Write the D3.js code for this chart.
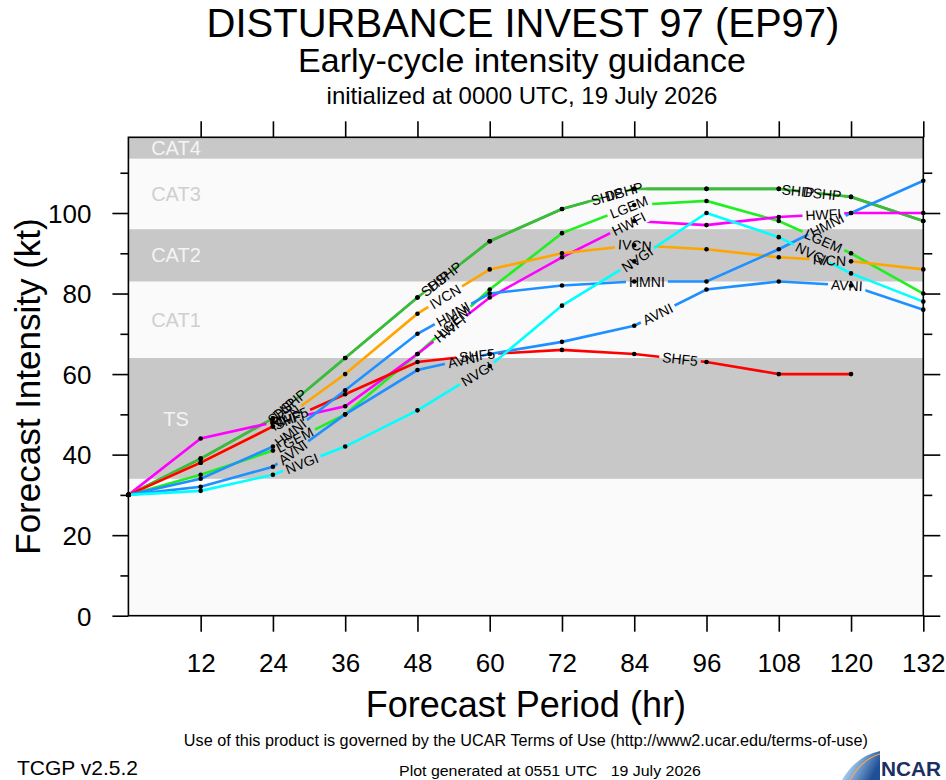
<!DOCTYPE html>
<html>
<head>
<meta charset="utf-8">
<script src="https://cdn.jsdelivr.net/npm/d3@7"></script>
<style>
body { margin: 0; background: #fff; }
svg text { font-family: "Liberation Sans", Arial, Helvetica, sans-serif; }
</style>
</head>
<body>
<svg id="chart" width="946" height="780"></svg>
<script>
// Forecast hours
const hours = [0, 12, 24, 36, 48, 60, 72, 84, 96, 108, 120, 132];

// Intensity forecasts (kt)
const SHIP = [30, 39, 49, 64, 79, 93, 101, 106, 106, 106, 104, 98];
const DSHP = [30, 39, 49, 64, 79, 93, 101, 106, 106, 106, 104, 98];
const LGEM = [30, 35, 41, 50, 65, 81, 95, 102, 103, 98, 90, 80];
const HWFI = [30, 44, 48, 52, 65, 79, 89, 98, 97, 99, 100, 100];
const IVCN = [30, 38, 47, 60, 75, 86, 90, 92, 91, 89, 88, 86];
const SHF5 = [30, 38, 47, 55, 63, 65, 66, 65, 63, 60, 60];
const AVNI = [30, 32, 37, 50, 61, 65, 68, 72, 81, 83, 82, 76];
const HMNI = [30, 34, 42, 56, 70, 80, 82, 83, 83, 91, 100, 108];
const NVGI = [30, 31, 35, 42, 51, 62, 77, 88, 100, 94, 85, 78];

// Saffir-Simpson bands
const bandNames = ["TS", "CAT1", "CAT2", "CAT3", "CAT4"];
const bandLow = [34, 64, 83, 96, 113.5];
const bandHigh = [64, 83, 96, 113.5, 140];

const xTicks = [12, 24, 36, 48, 60, 72, 84, 96, 108, 120, 132];
const yTicks = [0, 20, 40, 60, 80, 100];
const yMinor = [10, 30, 50, 70, 90, 110];

// where each model's name sits along its line (forecast hour)
const labelHours = {
    SHIP: [25.5, 51, 79.5, 111.2],
    DSHP: [26.8, 52.5, 82.3, 115.2],
    LGEM: [27.6, 54, 83.1, 115.4],
    HWFI: [26.3, 53.4, 83.1, 115.4],
    IVCN: [26, 52.6, 84.1, 116.4],
    SHF5: [27, 57.9, 91.6],
    AVNI: [27.3, 55.6, 87.9, 119.3],
    HMNI: [26.9, 53.9, 86.1, 116],
    NVGI: [28.8, 57.9, 84.5, 113.5]
};

const models = [
    {name: "SHIP", values: SHIP, color: "#3cbb3c"},
    {name: "DSHP", values: DSHP, color: "#3cbb3c"},
    {name: "LGEM", values: LGEM, color: "#22ee22"},
    {name: "HWFI", values: HWFI, color: "#ff00ff"},
    {name: "IVCN", values: IVCN, color: "#ffa500"},
    {name: "SHF5", values: SHF5, color: "#ff0000"},
    {name: "AVNI", values: AVNI, color: "#1e90ff"},
    {name: "HMNI", values: HMNI, color: "#1e90ff"},
    {name: "NVGI", values: NVGI, color: "#00ffff"}
];

const pLeft = 128.4, pRight = 923.3, pTop = 137.3, pBottom = 615.7;
const svg = d3.select("#chart");

const x = d3.scaleLinear().domain([0, 132]).range([pLeft, pRight]);
const y = d3.scaleLinear().domain([0, 118.8]).range([pBottom, pTop]);

// Titles
svg.append("text").attr("x", 523).attr("y", 36.5).attr("text-anchor", "middle")
    .style("font-size", "40px").text("DISTURBANCE INVEST 97 (EP97)");
svg.append("text").attr("x", 522).attr("y", 72).attr("text-anchor", "middle")
    .style("font-size", "34px").text("Early-cycle intensity guidance");
svg.append("text").attr("x", 522).attr("y", 104).attr("text-anchor", "middle")
    .style("font-size", "24px").text("initialized at 0000 UTC, 19 July 2026");

// Plot background and bands
const defs = svg.append("defs");
defs.append("clipPath").attr("id", "plotClip")
    .append("rect").attr("x", pLeft).attr("y", pTop)
    .attr("width", pRight - pLeft).attr("height", pBottom - pTop);

const plot = svg.append("g");
plot.append("rect").attr("x", pLeft).attr("y", pTop)
    .attr("width", pRight - pLeft).attr("height", pBottom - pTop).attr("fill", "#fafafa");

const bands = plot.append("g").attr("clip-path", "url(#plotClip)");
bandNames.forEach((name, i) => {
    const gray = i % 2 === 0;
    const y0 = y(bandLow[i]);
    const y1 = Math.max(y(bandHigh[i]), pTop);
    bands.append("rect")
        .attr("x", pLeft).attr("width", pRight - pLeft)
        .attr("y", y1).attr("height", y0 - y1)
        .attr("fill", gray ? "#c8c8c8" : "#fafafa");
    bands.append("text")
        .attr("x", 176).attr("y", (y0 + y1) / 2).attr("dy", "0.36em")
        .attr("text-anchor", "middle")
        .style("font-size", "20px")
        .attr("fill", gray ? "#f4f4f4" : "#cfcfcf")
        .text(name);
});

// Model lines with gaps where the names sit
const line = d3.line().x(d => x(d[0])).y(d => y(d[1]));
const lineLayer = svg.append("g").attr("clip-path", "url(#plotClip)");
const dotLayer = svg.append("g");
const labelLayer = svg.append("g");

function labelSpots(m) {
    const hrs = hours.slice(0, m.values.length);
    const interp = d3.scaleLinear().domain(hrs).range(m.values);
    return labelHours[m.name].map(h => {
        const i = Math.min(Math.floor(h / 12), hrs.length - 2);
        const dx = x(hrs[i + 1]) - x(hrs[i]);
        const dy = y(m.values[i + 1]) - y(m.values[i]);
        return {px: x(h), py: y(interp(h)), angle: Math.atan2(dy, dx) * 180 / Math.PI};
    });
}

models.forEach((m, k) => {
    const spots = labelSpots(m);
    const texts = spots.map(s => labelLayer.append("text")
        .attr("transform", `translate(${s.px},${s.py}) rotate(${s.angle})`)
        .attr("text-anchor", "middle").attr("dy", "0.36em")
        .style("font-size", "14px").attr("fill", "#000")
        .text(m.name));
    const mask = defs.append("mask").attr("id", "mask" + k)
        .attr("maskUnits", "userSpaceOnUse")
        .attr("x", 0).attr("y", 0).attr("width", 946).attr("height", 780);
    mask.append("rect").attr("width", 946).attr("height", 780).attr("fill", "#fff");
    spots.forEach((s, j) => {
        const w = texts[j].node().getComputedTextLength();
        mask.append("rect")
            .attr("x", -w / 2 - 3).attr("y", -7).attr("width", w + 6).attr("height", 14)
            .attr("transform", `translate(${s.px},${s.py}) rotate(${s.angle})`)
            .attr("fill", "#000");
    });
    const pts = m.values.map((v, i) => [hours[i], v]);
    lineLayer.append("path")
        .datum(pts)
        .attr("d", line)
        .attr("fill", "none")
        .attr("stroke", m.color)
        .attr("stroke-width", 2.6)
        .attr("mask", `url(#mask${k})`);
    dotLayer.selectAll(null).data(pts).enter().append("circle")
        .attr("cx", d => x(d[0])).attr("cy", d => y(d[1]))
        .attr("r", 2.3).attr("fill", "#000");
});

// Axes
const axes = svg.append("g");
const fmtNone = () => "";
axes.append("g").attr("transform", `translate(${pLeft},0)`)
    .call(d3.axisLeft(y).tickValues(yTicks).tickSize(16).tickPadding(21))
    .call(g => g.selectAll("text").style("font-size", "26px").attr("dy", "0.36em"));
axes.append("g").attr("transform", `translate(${pLeft},0)`)
    .call(d3.axisLeft(y).tickValues(yMinor).tickSize(8).tickFormat(fmtNone));
axes.append("g").attr("transform", `translate(${pRight},0)`)
    .call(d3.axisRight(y).tickValues(yTicks).tickSize(17).tickFormat(fmtNone));
axes.append("g").attr("transform", `translate(${pRight},0)`)
    .call(d3.axisRight(y).tickValues(yMinor).tickSize(9).tickFormat(fmtNone));
axes.append("g").attr("transform", `translate(0,${pBottom})`)
    .call(d3.axisBottom(x).tickValues(xTicks).tickSize(16).tickPadding(22))
    .call(g => g.selectAll("text").style("font-size", "26px"));
axes.append("g").attr("transform", `translate(0,${pTop})`)
    .call(d3.axisTop(x).tickValues(xTicks).tickSize(16).tickFormat(fmtNone));
axes.selectAll(".domain").remove();
axes.selectAll(".tick line").attr("stroke", "#000").attr("stroke-width", 1.6);
axes.selectAll(".tick text").attr("fill", "#000")
    .style("font-family", "\"Liberation Sans\", Arial, sans-serif");
axes.append("rect").attr("x", pLeft).attr("y", pTop)
    .attr("width", pRight - pLeft).attr("height", pBottom - pTop)
    .attr("fill", "none").attr("stroke", "#000").attr("stroke-width", 1.6);
svg.node().appendChild(dotLayer.node());
svg.node().appendChild(labelLayer.node());

// Axis titles
svg.append("text")
    .attr("transform", `translate(40,${(pTop + pBottom) / 2 + 10}) rotate(-90)`)
    .attr("text-anchor", "middle").style("font-size", "35px")
    .text("Forecast Intensity (kt)");
svg.append("text").attr("x", (pLeft + pRight) / 2).attr("y", 717)
    .attr("text-anchor", "middle").style("font-size", "36px")
    .text("Forecast Period (hr)");

// Footer
svg.append("text").attr("x", (pLeft + pRight) / 2).attr("y", 746)
    .attr("text-anchor", "middle").style("font-size", "16px")
    .attr("textLength", 684).attr("lengthAdjust", "spacingAndGlyphs")
    .text("Use of this product is governed by the UCAR Terms of Use (http://www2.ucar.edu/terms-of-use)");
svg.append("text").attr("x", 17).attr("y", 775)
    .style("font-size", "21px").text("TCGP v2.5.2");
svg.append("text").attr("x", 550).attr("y", 776)
    .attr("text-anchor", "middle").style("font-size", "14px")
    .attr("xml:space", "preserve")
    .attr("textLength", 302).attr("lengthAdjust", "spacingAndGlyphs")
    .text("Plot generated at 0551 UTC   19 July 2026");

// NCAR logo
const grad = defs.append("linearGradient").attr("id", "ncarGrad")
    .attr("x1", "0%").attr("y1", "0%").attr("x2", "100%").attr("y2", "40%");
grad.append("stop").attr("offset", "0%").attr("stop-color", "#ffffff");
grad.append("stop").attr("offset", "45%").attr("stop-color", "#8fb8e0");
grad.append("stop").attr("offset", "100%").attr("stop-color", "#1f4f96");
svg.append("path")
    .attr("d", "M842,780 Q856,756 880,751 L880,780 Z")
    .attr("fill", "url(#ncarGrad)");
svg.append("path")
    .attr("d", "M850,780 Q862,759 880,754")
    .attr("fill", "none").attr("stroke", "#f2a55a").attr("stroke-width", 1.2);
svg.append("text").attr("x", 881).attr("y", 776)
    .style("font-size", "21px").style("font-weight", "bold")
    .attr("fill", "#1b2f63").attr("textLength", 60).attr("lengthAdjust", "spacingAndGlyphs")
    .text("NCAR");
</script>
</body>
</html>
